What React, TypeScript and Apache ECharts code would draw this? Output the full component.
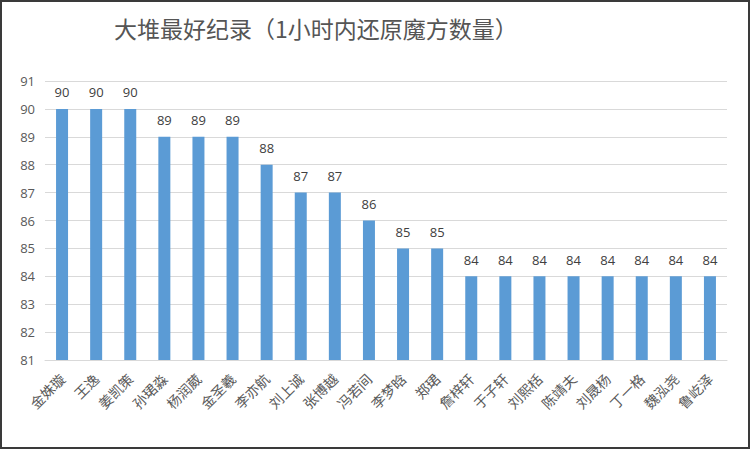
import React, { useEffect, useRef } from "react";
import * as echarts from "echarts";

const names = [
  "金姝璇", "王逸", "姜凯策", "孙珺淼", "杨润葳", "金圣羲", "李亦航", "刘上诚", "张博越", "冯若间",
  "李梦晗", "郑珺", "詹梓轩", "于子轩", "刘熙栝", "陈靖夫", "刘晟杨", "丁一格", "魏泓尧", "鲁屹泽",
];
const counts = [90, 90, 90, 89, 89, 89, 88, 87, 87, 86, 85, 85, 84, 84, 84, 84, 84, 84, 84, 84];
const title = "大堆最好纪录（1小时内还原魔方数量）";

const App: React.FC = () => {
  const chartRef = useRef<HTMLDivElement>(null);

  useEffect(() => {
    if (!chartRef.current) return;
    const myChart = echarts.init(chartRef.current, null, { renderer: "svg" });

    const option: echarts.EChartsOption = {
      animation: false,
      backgroundColor: "#ffffff",
      title: {
        text: title,
        left: 107,
        top: 9,
        textStyle: {
          fontFamily: "Noto Sans CJK SC",
          fontSize: 23,
          fontWeight: "normal",
          color: "#555555",
        },
      },
      grid: { left: 43, right: 21, top: 79, bottom: 87 },
      xAxis: {
        type: "category",
        data: names,
        axisLine: { lineStyle: { color: "#d9d9d9" } },
        axisTick: { show: false },
        axisLabel: {
          rotate: 45,
          interval: 0,
          margin: 16,
          fontSize: 14,
          color: "#595959",
          fontFamily: "Noto Sans CJK SC",
        },
      },
      yAxis: {
        type: "value",
        min: 81,
        max: 91,
        interval: 1,
        axisLine: { show: false },
        axisTick: { show: false },
        axisLabel: { fontSize: 13, color: "#595959", margin: 10, fontFamily: "Open Sans" },
        splitLine: { lineStyle: { color: "#d9d9d9" } },
      },
      series: [
        {
          type: "bar",
          data: counts,
          barWidth: 12,
          itemStyle: { color: "#5b9bd5" },
          label: {
            show: true,
            position: "top",
            distance: 10,
            fontSize: 13,
            color: "#404040",
            fontFamily: "Open Sans",
          },
        },
      ],
    };

    myChart.setOption(option);
    return () => {
      myChart.dispose();
    };
  }, []);

  return (
    <div
      style={{
        position: "fixed",
        left: 0,
        top: 0,
        width: 750,
        height: 449,
        boxSizing: "border-box",
        border: "2px solid #3a3a3a",
        background: "#fff",
      }}
    >
      <div ref={chartRef} style={{ width: 746, height: 445 }} />
    </div>
  );
};

export default App;
